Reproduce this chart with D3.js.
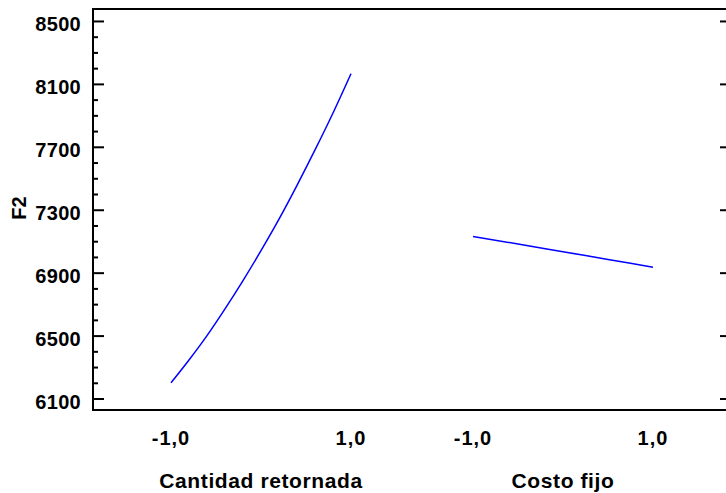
<!DOCTYPE html>
<html>
<head>
<meta charset="utf-8">
<script src="https://cdn.jsdelivr.net/npm/d3@7"></script>
<style>
  body { margin: 0; background: #fff; }
  text { font-family: Arial, "Liberation Sans", sans-serif; font-weight: bold; fill: #000; }
</style>
</head>
<body>
<div id="chart"></div>
<script>
// factor names shown under the axis
var factors = ["Cantidad retornada", "Costo fijo"];
// factor levels (coded) for each plotted point
var levels1 = [-1, -0.8, -0.6, -0.4, -0.2, 0, 0.2, 0.4, 0.6, 0.8, 1];
var effect1 = [6200, 6345, 6500, 6670, 6850, 7040, 7240, 7455, 7680, 7915, 8165];
var levels2 = [-1, -0.5, 0, 0.5, 1];
var effect2 = [7130, 7082, 7033, 6984, 6935];
var xTickLabels = ["-1,0", "1,0"];
var yTicks = [6100, 6500, 6900, 7300, 7700, 8100, 8500];

var width = 726, height = 493;
var plotLeft = 93, plotRight = 731, plotTop = 9, plotBottom = 410;

var svg = d3.select("#chart").append("svg")
    .attr("width", width)
    .attr("height", height);

var y = d3.scaleLinear().domain([6027, 8576]).range([plotBottom, plotTop]);

// each factor gets its own x scale, same width
var x1 = d3.scaleLinear().domain([-1, 1]).range([171, 351]);
var x2 = d3.scaleLinear().domain([-1, 1]).range([473, 653]);

// frame
svg.append("rect")
    .attr("x", plotLeft).attr("y", plotTop)
    .attr("width", plotRight - plotLeft).attr("height", plotBottom - plotTop)
    .attr("fill", "none").attr("stroke", "#000").attr("stroke-width", 2);

// left axis, ticks inside
var yAxis = d3.axisRight(y).tickValues(yTicks).tickSize(11).tickFormat("");
svg.append("g").attr("transform", "translate(" + plotLeft + ",0)").call(yAxis)
    .call(function (g) { g.select(".domain").remove(); })
    .selectAll("line").attr("stroke-width", 2);

var minor = d3.range(6100, 8600, 100).filter(function (v) { return yTicks.indexOf(v) < 0; });
var yMinor = d3.axisRight(y).tickValues(minor).tickSize(5).tickFormat("");
svg.append("g").attr("transform", "translate(" + plotLeft + ",0)").call(yMinor)
    .call(function (g) { g.select(".domain").remove(); })
    .selectAll("line").attr("stroke-width", 2);

// right axis, major only
var yAxisR = d3.axisLeft(y).tickValues(yTicks).tickSize(11).tickFormat("");
svg.append("g").attr("transform", "translate(" + plotRight + ",0)").call(yAxisR)
    .call(function (g) { g.select(".domain").remove(); })
    .selectAll("line").attr("stroke-width", 2);

// y labels
svg.selectAll(".ylab").data(yTicks).enter().append("text")
    .attr("class", "ylab")
    .attr("x", 81)
    .attr("y", function (d) { return y(d) + 10; })
    .attr("text-anchor", "end")
    .style("font-size", "20px")
    .style("letter-spacing", "0.3px")
    .text(function (d) { return d; });

svg.append("text")
    .attr("transform", "translate(26,208) rotate(-90)")
    .attr("text-anchor", "middle")
    .style("font-size", "20px")
    .text("F2");

// x labels per factor
[x1, x2].forEach(function (sc, i) {
    var g = svg.append("g");
    g.selectAll("text.tick").data([-1, 1]).enter().append("text")
        .attr("x", function (d) { return sc(d); })
        .attr("y", 445)
        .attr("text-anchor", "middle")
        .style("font-size", "20px")
        .style("letter-spacing", "1px")
        .text(function (d, j) { return xTickLabels[j]; });
    g.append("text")
        .attr("x", (sc.range()[0] + sc.range()[1]) / 2)
        .attr("y", 488)
        .attr("text-anchor", "middle")
        .style("font-size", "21px")
        .style("letter-spacing", "0.6px")
        .text(factors[i]);
});

var line = d3.line().curve(d3.curveMonotoneX);

svg.append("path")
    .attr("d", line(levels1.map(function (t, i) { return [x1(t), y(effect1[i])]; })))
    .attr("fill", "none").attr("stroke", "#0000ff").attr("stroke-width", 1.5);

svg.append("path")
    .attr("d", line(levels2.map(function (t, i) { return [x2(t), y(effect2[i])]; })))
    .attr("fill", "none").attr("stroke", "#0000ff").attr("stroke-width", 1.5);
</script>
</body>
</html>
